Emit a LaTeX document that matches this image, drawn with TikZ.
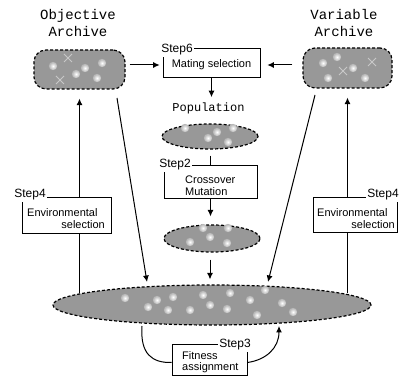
\documentclass[tikz,border=0pt]{standalone}
\usepackage{fontspec}
\setmainfont{Liberation Sans}
\newfontfamily\titlefont{Liberation Mono}
\usetikzlibrary{arrows.meta,shapes.geometric,positioning}
\definecolor{PoolGray}{RGB}{152,152,152}
\definecolor{MarkGray}{RGB}{200,200,200}
\definecolor{BubbleEdge}{RGB}{178,178,178}
\tikzset{
  pool/.style={draw, fill=PoolGray, line width=1.2pt, dash pattern=on 3pt off 2pt, inner sep=0pt},
  archive/.style={pool, rounded corners=12pt},
  stepbox/.style={draw, line width=0.7pt, fill=white, inner sep=0pt},
  steplabel/.style={fill=white, inner sep=1.5pt, font=\fontsize{12}{14}\selectfont},
  boxtext/.style={inner sep=0pt, font=\fontsize{11}{12}\selectfont, align=left},
  title/.style={inner sep=0pt, align=center, font=\titlefont\fontsize{14}{17}\selectfont},
  arr/.style={line width=1pt, -{Latex[length=6.5pt,width=6pt]}},
  link/.style={line width=1pt},
}
\newcommand{\bubble}[2]{\shade[inner color=white, outer color=BubbleEdge] (#1,#2) circle (4.2pt);}
\newcommand{\xmark}[2]{\draw[MarkGray, line width=1pt] (#1-4,#2-4) -- (#1+4,#2+4) (#1-4,#2+4) -- (#1+4,#2-4);}

\begin{document}
\begin{tikzpicture}[x=1pt, y=-1pt]
    \useasboundingbox (0,0) rectangle (399,379);

    % titles
    \node[title] (objtitle) at (78,22.5) {Objective\\Archive};
    \node[title] (vartitle) at (344,22.5) {Variable\\Archive};
    \node[title, font=\titlefont\fontsize{12}{14}\selectfont] (poptitle) at (208.5,108) {Population};

    % archives and populations
    \node[archive, minimum width=91pt, minimum height=39pt] (objarch) at (79.5,69.5) {};
    \node[archive, minimum width=89pt, minimum height=40pt] (vararch) at (347.5,68) {};
    \node[pool, ellipse, minimum width=96pt, minimum height=25pt] (pop) at (210,136.5) {};
    \node[pool, ellipse, minimum width=96pt, minimum height=27pt] (offs) at (212,238.5) {};
    \node[pool, ellipse, minimum width=318pt, minimum height=40pt] (mix) at (212,305) {};

    \foreach \x/\y in {53/66, 85/68, 102/63, 97/78, 76/74} { \bubble{\x}{\y} }
    \foreach \x/\y in {68/58, 60/80} { \xmark{\x}{\y} }
    \foreach \x/\y in {323/63, 337/57, 353/68, 328/78, 365/78} { \bubble{\x}{\y} }
    \foreach \x/\y in {343/71, 372/62} { \xmark{\x}{\y} }
    \foreach \x/\y in {185/128, 217/132, 233/128, 208/138, 228/142} { \bubble{\x}{\y} }
    \foreach \x/\y in {203/228, 228/228, 210/237, 190/242, 227/243} { \bubble{\x}{\y} }
    \foreach \x/\y in {125/298, 157/300, 173/297, 148/307, 168/310, 190/310, 203/295,
                       210/305, 230/293, 227/309, 250/300, 265/290, 257/315, 282/303, 293/312} { \bubble{\x}{\y} }

    % free ends of the connectors
    \coordinate (oa-d) at (117,98);
    \coordinate (va-d) at (315,95);
    \coordinate (mix-dl) at (147,282);
    \coordinate (mix-dr) at (268,282);
    \coordinate (mix-l) at (79.5,293);
    \coordinate (mix-r) at (347.5,293);

    % step boxes
    \node[stepbox, minimum width=97pt, minimum height=29pt] (mate) at (211.5,62.5) {};
    \node[boxtext] (matetxt) at (211.5,65) {Mating selection};
    \node[steplabel] (step6) at (177,50) {Step6};

    \node[stepbox, minimum width=93pt, minimum height=33pt] (cross) at (210.5,181.5) {};
    \node[boxtext, anchor=west] (crosstxt) at (185,186) {Crossover\\Mutation};

    \draw[arr] (objarch.east |- matetxt) ++(4,0) -- ([xshift=-3pt]mate.west |- matetxt);
    \draw[arr] ([xshift=-10pt]vararch.west |- matetxt) -- ([xshift=7pt]mate.east |- matetxt);
    \draw[arr, shorten >=5pt] (mate.south) -- (poptitle.north -| mate.south);
    \draw[link] ([yshift=-6pt]pop.south -| cross.north) -- (cross.north);
    \node[steplabel] (step2) at (175,165) {Step2};
    \draw[arr, shorten >=8pt] (cross.south) -- (offs.north -| cross.south);
    \draw[arr, shorten <=7pt, shorten >=5pt] (offs.south -| 210,0) -- (mix.north -| 210,0);

    \draw[arr] (oa-d) -- (mix-dl);
    \draw[arr] (va-d) -- (mix-dr);
    \draw[arr] (mix-l) -- ([yshift=-9pt]objarch.south);
    \draw[arr] (mix-r) -- ([yshift=-9pt]vararch.south);

    \node[stepbox, minimum width=89pt, minimum height=36pt] (envl) at (66.5,215) {};
    \node[boxtext, anchor=west] (envltxt) at (27,213) {Environmental};
    \node[boxtext, anchor=east] (envlsel) at (105,225) {selection};
    \node[steplabel] (step4l) at (30,195) {Step4};

    \node[stepbox, minimum width=84pt, minimum height=35pt] (envr) at (355,214.5) {};
    \node[boxtext, anchor=west] (envrtxt) at (317,213) {Environmental};
    \node[boxtext, anchor=east] (envrsel) at (395,225) {selection};
    \node[steplabel] (step4r) at (383,195) {Step4};

    \node[stepbox, minimum width=75pt, minimum height=31pt] (fit) at (209.5,359.5) {};
    \node[boxtext, anchor=west, font=\fontsize{11}{11}\selectfont] (fittxt) at (182,362.5) {Fitness\\assignment};
    \node[steplabel] (step3) at (235,345) {Step3};
    \draw[link] (142,326) .. controls (140,354) and (152,363) .. ([yshift=-3pt]fit.west);
    \draw[arr] ([yshift=-3pt]fit.east) .. controls (266,360) and (279,348) .. (279,326);
\end{tikzpicture}
\end{document}
